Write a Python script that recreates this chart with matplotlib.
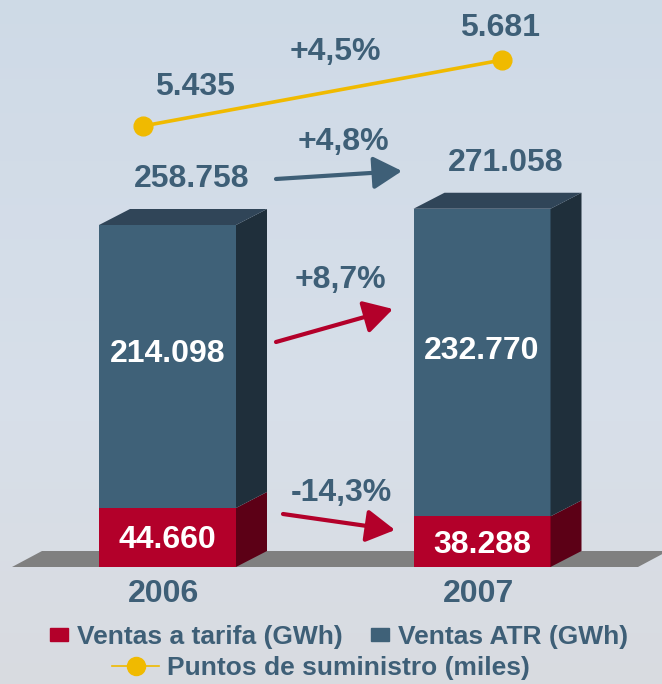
import numpy as np
import matplotlib.pyplot as plt
from matplotlib.patches import Polygon, Rectangle
from matplotlib.lines import Line2D

plt.rcParams['font.family'] = ['Liberation Sans', 'DejaVu Sans']
plt.rcParams['font.weight'] = 'bold'

# datos
years = ['2006', '2007']
ventas_tarifa = [44660, 38288]
ventas_atr = [214098, 232770]
puntos = [5435, 5681]
var_puntos = '+4,5%'
var_total = '+4,8%'
var_atr = '+8,7%'
var_tarifa = '-14,3%'

txt_col = '#3E5F77'
red_front, red_side = '#B3002A', '#5C0016'
blue_front, blue_side, blue_top = '#3F6178', '#1F2F3B', '#304558'
yellow = '#F0BA00'


def fmt(v):
    return f'{v:,}'.replace(',', '.')


W, H = 662, 684
fig = plt.figure(figsize=(W / 100, H / 100), dpi=100)

# fondo
bg = fig.add_axes([0, 0, 1, 1])
t = np.linspace(0, 1, 200)[:, None]
top_c = np.array([0.81, 0.855, 0.905])
mid_c = np.array([0.845, 0.875, 0.915])
bot_c = np.array([0.85, 0.86, 0.88])
grad = np.where(t < 0.6, top_c + (mid_c - top_c) * (t / 0.6), mid_c + (bot_c - mid_c) * ((t - 0.6) / 0.4))
bg.imshow(grad[:, None, :].repeat(10, axis=1), aspect='auto', extent=[0, 1, 0, 1])
bg.axis('off')

# escala: px por categoria y GWh por px
px_cat, x0_px, base_px, gwh_px = 314.5, 167.5, 567, 756.6
ax = fig.add_axes([0, 0, 1, 1])
ax.set_xlim(-x0_px / px_cat, (W - x0_px) / px_cat)
ax.set_ylim(-(H - base_px) * gwh_px, base_px * gwh_px)
ax.axis('off')

bw = 137 / px_cat
dx, dy = 31 / px_cat, 16 * gwh_px

# suelo
fl, fr = (12 - x0_px) / px_cat, (638 - x0_px) / px_cat
fdx = 30 / px_cat
ax.add_patch(Polygon([(fl, 0), (fr, 0), (fr + fdx, dy), (fl + fdx, dy)], closed=True, color='#808080', lw=0))

# barras 3D
for i in range(len(years)):
    b = 0
    for h, fc, sc in [(ventas_tarifa[i], red_front, red_side), (ventas_atr[i], blue_front, blue_side)]:
        xl, xr = i - bw / 2, i + bw / 2
        ax.add_patch(Rectangle((xl, b), bw, h, color=fc, lw=0))
        ax.add_patch(Polygon([(xr, b), (xr + dx, b + dy), (xr + dx, b + h + dy), (xr, b + h)], closed=True, color=sc, lw=0))
        b += h
    ax.add_patch(Polygon([(xl, b), (xr, b), (xr + dx, b + dy), (xl + dx, b + dy)], closed=True, color=blue_top, lw=0))

    tot = ventas_tarifa[i] + ventas_atr[i]
    ax.annotate(fmt(tot), (i, tot), xytext=(24, 46), textcoords='offset pixels',
                ha='center', va='center', fontsize=23, color=txt_col)
    ax.annotate(fmt(ventas_atr[i]), (i, ventas_tarifa[i] + ventas_atr[i] / 2), xytext=(0, 12),
                textcoords='offset pixels', ha='center', va='center', fontsize=23, color='white')
    ax.annotate(fmt(ventas_tarifa[i]), (i, ventas_tarifa[i] / 2), xytext=(0, -3),
                textcoords='offset pixels', ha='center', va='center', fontsize=23, color='white')
    ax.annotate(years[i], (i, 0), xytext=(-4, -27), textcoords='offset pixels',
                ha='center', va='center', fontsize=23, color=txt_col)

# puntos de suministro
ax2 = fig.add_axes([0, 0, 1, 1])
ax2.patch.set_visible(False)
ax2.set_xlim(ax.get_xlim())
ax2.set_ylim(5435 - (H - 126) * 3.7273, 5435 + 126 * 3.7273)
ax2.axis('off')
xs = [0 - 0.078, 1 + 0.064]
ax2.plot(xs, puntos, color=yellow, lw=2.6, marker='o', ms=13.5, solid_capstyle='round')
for x, v, off in zip(xs, puntos, [(52, 39), (-2, 32)]):
    ax2.annotate(fmt(v), (x, v), xytext=off, textcoords='offset pixels',
                 ha='center', va='center', fontsize=23, color=txt_col)

# variaciones
for s, (x, y) in zip([var_puntos, var_total, var_atr, var_tarifa], [(335, 52), (343, 142), (340, 280), (341, 493)]):
    fig.text(x / W, 1 - y / H, s, ha='center', va='center', fontsize=23, color=txt_col)

for (x1, y1), (x2, y2), c in [((276, 179), (402, 171), txt_col),
                              ((276, 342), (393, 309), red_front),
                              ((283, 514), (395, 530), red_front)]:
    ax.annotate('', xy=(x2, H - y2), xytext=(x1, H - y1), xycoords='figure pixels', textcoords='figure pixels',
                arrowprops=dict(arrowstyle='-|>,head_length=0.7,head_width=0.4', mutation_scale=25,
                                lw=3, color=c, shrinkA=0, shrinkB=0))

# leyenda
h1 = [Rectangle((0, 0), 1, 1, color=red_front), Rectangle((0, 0), 1, 1, color=blue_front)]
leg1 = fig.legend(h1, ['Ventas a tarifa (GWh)', 'Ventas ATR (GWh)'], loc='center',
                  bbox_to_anchor=(339 / W, 1 - 637 / H), ncol=2, frameon=False, fontsize=19,
                  handlelength=0.68, handleheight=0.38, handletextpad=0.34, columnspacing=1.1,
                  borderpad=0, borderaxespad=0, labelcolor=txt_col)
h2 = [Line2D([], [], color=yellow, lw=1.2, marker='o', ms=13)]
leg2 = fig.legend(h2, ['Puntos de suministro (miles)'], loc='center',
                  bbox_to_anchor=(321 / W, 1 - 668 / H), frameon=False, fontsize=19,
                  handlelength=1.78, handletextpad=0.3, borderpad=0, borderaxespad=0, labelcolor=txt_col)

fig.savefig('out.png', dpi=100)
